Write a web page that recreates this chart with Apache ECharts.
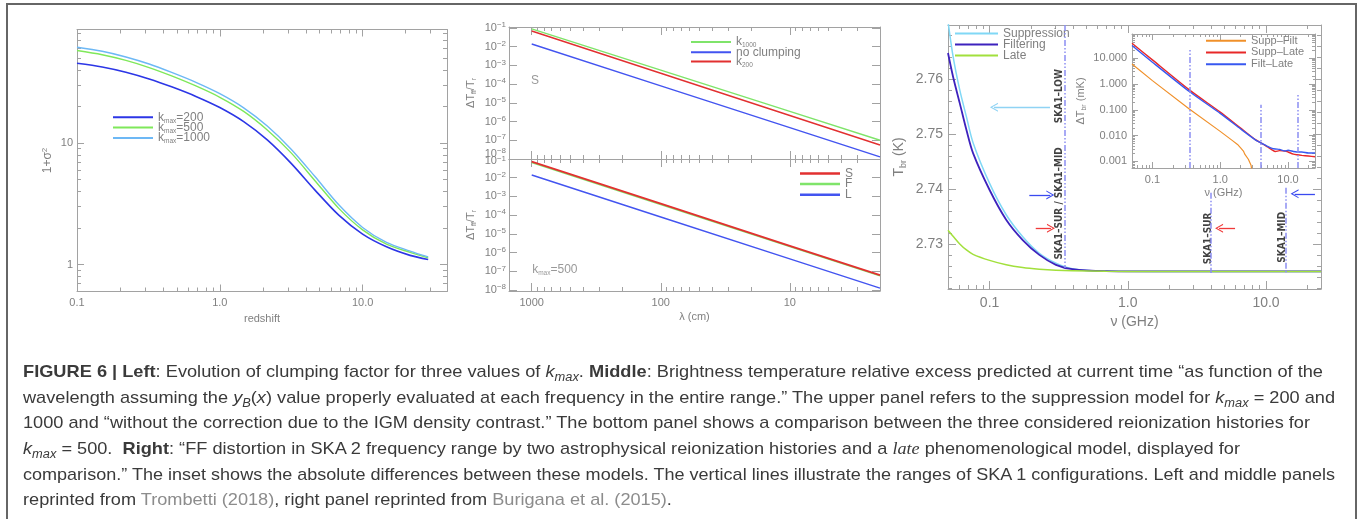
<!DOCTYPE html>
<html>
<head>
<meta charset="utf-8">
<title>Figure 6</title>
<script src="https://cdn.jsdelivr.net/npm/echarts@6/dist/echarts.min.js"></script>
<style>
  html, body { margin: 0; padding: 0; background: #fff; }
  #wrap { position: relative; width: 1362px; height: 519px; overflow: hidden; }
  #chart { position: absolute; left: 0; top: 0; width: 1362px; height: 519px; }
  #frame { position: absolute; left: 6px; top: 3px; width: 1351px; height: 540px; border: 2px solid #666;
           border-bottom: none; box-sizing: border-box; pointer-events: none; }
  #caption { position: absolute; left: 23px; top: 359px; font-family: 'Liberation Sans', Arial, sans-serif;
             font-size: 17px; color: #3a3a3a; }
  #caption div { height: 25.7px; line-height: 25.7px; white-space: nowrap; }
  #caption .ln { display: inline-block; transform-origin: 0 50%; }
  #caption sub { font-size: 12px; vertical-align: -4px; line-height: 0; }
  #caption .ref { color: #8c8c8c; }
  #caption .serif { font-family: 'Liberation Serif', serif; }
</style>
</head>
<body>
<div id="wrap">
  <div id="chart"></div>
  <div id="frame"></div>
  <div id="caption">
    <div><span class="ln"><b>FIGURE 6 | Left</b>: Evolution of clumping factor for three values of <i>k<sub>max</sub></i>. <b>Middle</b>: Brightness temperature relative excess predicted at current time “as function of the</span></div>
    <div><span class="ln">wavelength assuming the <i>y<sub>B</sub></i>(<i>x</i>) value properly evaluated at each frequency in the entire range.” The upper panel refers to the suppression model for <i>k<sub>max</sub></i> = 200 and</span></div>
    <div><span class="ln">1000 and “without the correction due to the IGM density contrast.” The bottom panel shows a comparison between the three considered reionization histories for</span></div>
    <div><span class="ln"><i>k<sub>max</sub></i> = 500.&nbsp; <b>Right</b>: “FF distortion in SKA 2 frequency range by two astrophysical reionization histories and a <i class="serif">late</i> phenomenological model, displayed for</span></div>
    <div><span class="ln">comparison.” The inset shows the absolute differences between these models. The vertical lines illustrate the ranges of SKA 1 configurations. Left and middle panels</span></div>
    <div><span class="ln">reprinted from <span class="ref">Trombetti (2018)</span>, right panel reprinted from <span class="ref">Burigana et al. (2015)</span>.</span></div>
  </div>
</div>
<script>
// ---------- left panel: clumping factor 1+sigma^2 vs redshift ----------
const redshift   = [0.1, 0.15, 0.22, 0.32, 0.46, 0.68, 1.0, 1.47, 2.15, 3.16, 4.64, 6.81, 10, 14.7, 21.5, 28.8]
const clumpK200  = [45.4, 42.3, 38.3, 33.7, 29.0, 24.2, 19.6, 15.0, 10.6, 6.8, 4.1, 2.55, 1.78, 1.40, 1.19, 1.10]
const clumpK500  = [57.7, 53.3, 47.9, 41.8, 35.7, 29.5, 23.8, 18.2, 12.8, 8.3, 4.9, 2.9, 1.93, 1.47, 1.26, 1.135]
const clumpK1000 = [61.5, 56.9, 51.1, 44.7, 38.1, 31.6, 25.5, 19.5, 13.8, 8.9, 5.3, 3.1, 2.02, 1.52, 1.29, 1.155]
const leftXTicks = [0.1, 1, 10]
const leftXLabels = ['0.1', '1.0', '10.0']
const leftYTicks = [1, 10]
const leftYLabels = ['1', '10']

// ---------- middle panels: dT_ff/T_r vs wavelength ----------
const lambdaCm  = [1000, 100, 10, 2]
const upK1000   = [9.0e-2, 5.6e-4, 3.5e-6, 1.0e-7]
const upNoClump = [1.4e-2, 8.1e-5, 4.7e-7, 1.3e-8]
const upK200    = [6.9e-2, 3.8e-4, 2.1e-6, 5.6e-8]
const lowS      = [7.2e-2, 4.1e-4, 2.3e-6, 6.3e-8]
const lowF      = [6.4e-2, 3.7e-4, 2.1e-6, 5.7e-8]
const lowL      = [1.4e-2, 8.0e-5, 4.6e-7, 1.26e-8]
const midXTicks = [1000, 100, 10]
const midXLabels = ['1000', '100', '10']
const midYExp = [-1, -2, -3, -4, -5, -6, -7, -8]

// ---------- right panel: T_br vs frequency ----------
const nuMain = [0.05, 0.0544, 0.0608, 0.068, 0.0759, 0.1, 0.1318, 0.1737, 0.229, 0.302, 0.397, 0.69, 1.5, 4, 10, 25]
const tSupp  = [2.7705, 2.7641, 2.7580, 2.7531, 2.7484, 2.7410, 2.7353, 2.7313, 2.7283, 2.7265, 2.7255, 2.72505, 2.725, 2.725, 2.725, 2.725]
const tFilt  = [2.7647, 2.7604, 2.7556, 2.7507, 2.7465, 2.7398, 2.7344, 2.7307, 2.7280, 2.7262, 2.7254, 2.72505, 2.725, 2.725, 2.725, 2.725]
const tLate  = [2.7325, 2.7314, 2.7300, 2.7289, 2.7281, 2.7270, 2.7262, 2.7257, 2.7254, 2.7252, 2.7251, 2.72502, 2.725, 2.725, 2.725, 2.725]
const mainXTicks = [0.1, 1, 10]
const mainXLabels = ['0.1', '1.0', '10.0']
const mainYTicks = [2.73, 2.74, 2.75, 2.76]
const skaBandsGHz = [0.35, 4, 13.8]

// inset: absolute differences (mK)
const nuInset   = [0.05, 0.1, 0.35, 1.0, 2.0, 3.3, 4.1, 5.0, 5.8, 6.5, 7.5, 9.1, 10, 12, 13.5, 16, 20, 25]
const dSuppLate = [38, 8.6, 0.59, 0.081, 0.0194, 0.0069, 0.0050, 0.0036, 0.0028, 0.0024, 0.0026, 0.0025, 0.0023, 0.0019, 0.0018, 0.0017, 0.0016, 0.0015]
const dFiltLate = [31, 7.0, 0.51, 0.072, 0.018, 0.0068, 0.0050, 0.0038, 0.0032, 0.0030, 0.0029, 0.0025, 0.0027, 0.0024, 0.0023, 0.0023, 0.0021, 0.0021]
const nuSuppFilt = [0.05, 0.1, 0.35, 1.0, 1.5, 1.8, 2.0, 2.2, 2.3, 2.45, 2.6, 2.7, 2.85, 2.95]
const dSuppFilt  = [6.0, 1.35, 0.107, 0.0145, 0.0065, 0.0045, 0.0033, 0.0025, 0.0019, 0.0021, 0.0012, 0.0014, 0.0007, 0.0004]
const insetYTicks = [10, 1, 0.1, 0.01, 0.001]
const insetYLabels = ['10.000', '1.000', '0.100', '0.010', '0.001']

// ---------- helpers ----------
const L = Math.log10
const FONT = "'Liberation Sans', 'DejaVu Sans', Arial, sans-serif"
const AX = '#a2a2a2'
const TX = '#808080'

const logPairs = (xs, ys) => xs.map((x, i) => [L(x), L(ys[i])])
const logXPairs = (xs, ys) => xs.map((x, i) => [L(x), ys[i]])

// 2..9 x 10^k minor ticks inside [lo, hi], in log10 space
function logMinor(lo, hi) {
  const out = []
  for (let e = Math.floor(L(lo)) - 1; e <= Math.ceil(L(hi)); e++) {
    for (let m = 2; m <= 9; m++) {
      const v = m * Math.pow(10, e)
      if (v >= lo * 0.9999 && v <= hi * 1.0001) out.push(L(v))
    }
  }
  return out
}

// label formatter that picks the label of the nearest tick
function nearest(vals, labels) {
  return v => {
    let best = 0
    vals.forEach((t, i) => { if (Math.abs(t - v) < Math.abs(vals[best] - v)) best = i })
    return labels[best]
  }
}

const xAxes = []
const yAxes = []

// box of four axes (labelled side + opposite side, each with a major and a minor tick axis)
function axisSet(list, dim, gridIndex, c) {
  const first = list.length
  const sides = dim === 'x' ? ['bottom', 'top'] : ['left', 'right']
  sides.forEach((pos, s) => {
    [c.major, c.minor || []].forEach((ticks, m) => {
      const main = s === 0 && m === 0
      const showLabel = main && !!c.labels
      list.push({
        type: 'value', gridIndex, position: pos, min: c.min, max: c.max, inverse: !!c.inverse,
        silent: true,
        splitLine: { show: false },
        axisPointer: { show: false },
        axisLine: { show: m === 0, onZero: false, lineStyle: { color: AX, width: 1 } },
        axisTick: {
          show: ticks.length > 0, inside: true, length: m === 0 ? c.len[0] : c.len[1],
          customValues: ticks, lineStyle: { color: AX, width: 1 }
        },
        axisLabel: showLabel ? {
          show: true, customValues: c.labelAt || c.major, formatter: c.labels,
          color: TX, fontFamily: FONT, fontSize: c.fontSize || 11, margin: c.margin, rich: c.rich
        } : { show: false },
        name: main && c.name ? c.name : '',
        nameLocation: 'middle',
        nameGap: c.nameGap || 20,
        nameRotate: dim === 'y' ? 90 : 0,
        nameTextStyle: Object.assign({ color: TX, fontFamily: FONT, fontSize: c.nameSize || 11 }, c.nameStyle || {})
      })
    })
  })
  return first
}

const grids = [
  { left: 77, top: 29.5, width: 370, height: 262 },   // 0 left
  { left: 509, top: 27, width: 371, height: 132 },    // 1 middle upper
  { left: 509, top: 159, width: 371, height: 132 },   // 2 middle lower
  { left: 948, top: 25, width: 373, height: 264 },    // 3 right main
  { left: 1132, top: 34, width: 183, height: 134 }    // 4 inset
].map(g => Object.assign({ show: false, containLabel: false, outerBoundsMode: 'none' }, g))

// ----- left axes -----
const lx = axisSet(xAxes, 'x', 0, {
  min: L(0.1), max: L(39), major: leftXTicks.map(L), minor: logMinor(0.1, 39), len: [7, 4],
  labels: nearest(leftXTicks.map(L), leftXLabels), margin: 6,
  name: 'redshift', nameGap: 19
})
const ly = axisSet(yAxes, 'y', 0, {
  min: L(0.6), max: L(86), major: leftYTicks.map(L), minor: logMinor(0.6, 86), len: [7, 4],
  labels: nearest(leftYTicks.map(L), leftYLabels), margin: 4,
  name: '{a|1+σ}{p|2}', nameGap: 22,
  nameStyle: { rich: {
    a: { fontSize: 12, lineHeight: 14, color: TX, fontFamily: FONT },
    p: { fontSize: 8, lineHeight: 8, verticalAlign: 'top', color: TX, fontFamily: FONT }
  } }
})

// ----- middle axes -----
const expRich = {
  b: { fontSize: 11, lineHeight: 14, color: TX, fontFamily: FONT },
  e: { fontSize: 8, lineHeight: 8, verticalAlign: 'top', color: TX, fontFamily: FONT }
}
const expFmt = v => '{b|10}{e|−' + Math.round(-v) + '}'
const ffName = {
  name: '{a|ΔT}{s|ff}{a|/T}{s|r}', nameGap: 31,
  nameStyle: { rich: {
    a: { fontSize: 11, lineHeight: 14, color: TX, fontFamily: FONT },
    s: { fontSize: 7, lineHeight: 8, verticalAlign: 'bottom', color: TX, fontFamily: FONT }
  } }
}
const midMinor = logMinor(2, 1500)
const mUx = axisSet(xAxes, 'x', 1, {
  min: L(2), max: L(1500), inverse: true, major: midXTicks.map(L), minor: midMinor, len: [8, 4]
})
const mUy = axisSet(yAxes, 'y', 1, Object.assign({
  min: -8.0, max: -0.947, major: midYExp, len: [8, 4],
  labelAt: [-1, -2, -3, -4, -5, -6, -7, -7.72], labels: v => expFmt(Math.min(-1, Math.round(v))), rich: expRich, margin: 3
}, ffName))
const mLx = axisSet(xAxes, 'x', 2, {
  min: L(2), max: L(1500), inverse: true, major: midXTicks.map(L), minor: midMinor, len: [8, 4],
  labels: nearest(midXTicks.map(L), midXLabels), margin: 6,
  name: 'λ (cm)', nameGap: 20
})
const mLy = axisSet(yAxes, 'y', 2, Object.assign({
  min: -8.05, max: -1.0, major: midYExp, len: [8, 4],
  labelAt: [-1.13, -2, -3, -4, -5, -6, -7, -8], labels: v => expFmt(Math.round(v)), rich: expRich, margin: 3
}, ffName))

// ----- right main axes -----
const mainYMinor = []
for (let k = 2722; k <= 2768; k += 2) if (k % 10 !== 0) mainYMinor.push(k / 1000)
const rx = axisSet(xAxes, 'x', 3, {
  min: L(0.05), max: L(25), major: mainXTicks.map(L), minor: logMinor(0.05, 25), len: [8, 4],
  labels: nearest(mainXTicks.map(L), mainXLabels), fontSize: 14, margin: 7,
  name: 'ν (GHz)', nameGap: 25, nameSize: 14
})
const ry = axisSet(yAxes, 'y', 3, {
  min: 2.7218, max: 2.7698, major: mainYTicks, minor: mainYMinor, len: [8, 4],
  labels: v => v.toFixed(2), fontSize: 14, margin: 5,
  name: '{a|T}{s|br}{a| (K)}', nameGap: 40,
  nameStyle: { rich: {
    a: { fontSize: 14, lineHeight: 17, color: TX, fontFamily: FONT },
    s: { fontSize: 9, lineHeight: 9, verticalAlign: 'bottom', color: TX, fontFamily: FONT }
  } }
})

// ----- inset axes -----
const ix = axisSet(xAxes, 'x', 4, {
  min: L(0.05), max: L(25), major: mainXTicks.map(L), minor: logMinor(0.05, 25), len: [6, 3],
  labels: nearest(mainXTicks.map(L), mainXLabels), margin: 6,
  name: 'ν (GHz)', nameGap: 19
})
const iy = axisSet(yAxes, 'y', 4, {
  min: L(5.5e-4), max: L(87), major: insetYTicks.map(L), minor: logMinor(5.5e-4, 87), len: [6, 3],
  labels: nearest(insetYTicks.map(L), insetYLabels), margin: 5,
  name: '{a|ΔT}{s|br}{a| (mK)}', nameGap: 44,
  nameStyle: { rich: {
    a: { fontSize: 11, lineHeight: 14, color: TX, fontFamily: FONT },
    s: { fontSize: 7, lineHeight: 8, verticalAlign: 'bottom', color: TX, fontFamily: FONT }
  } }
})

// ---------- series ----------
function line(name, xi, yi, data, color, width, extra) {
  return Object.assign({
    type: 'line', name, xAxisIndex: xi, yAxisIndex: yi, data,
    symbol: 'none', showSymbol: false, clip: true, silent: true,
    lineStyle: { color, width: width || 1.4 }, itemStyle: { color }
  }, extra || {})
}
function textMarks(xi, yi, items, label, extra) {
  return Object.assign({
    type: 'scatter', xAxisIndex: xi, yAxisIndex: yi, symbolSize: 1, silent: true,
    itemStyle: { color: 'rgba(0,0,0,0)' },
    data: items,
    label: Object.assign({ show: true, position: 'inside', formatter: '{b}', color: TX, fontFamily: FONT, fontSize: 12 }, label)
  }, extra || {})
}

const C = {
  k200: '#2c36e6', k500: '#7fe85a', k1000: '#6db8f5',
  green: '#7fe46a', blue: '#4354f0', red: '#e23030',
  supp: '#80d8f6', filt: '#3d22bd', late: '#a2e03c',
  sf: '#f0902a', sl: '#e82828', fl: '#3858f0',
  band: '#8c8ef2', arrowCyan: '#8fd3f4', arrowBlue: '#3a4af0', arrowRed: '#f03a3a'
}

const smooth = { smooth: 0.3 }

// vertical SKA band lines (dash-dot) and arrows for the right panel
const bandStyle = { color: C.band, width: 1.5, type: [6, 2, 1.5, 2, 1.5, 2] }
const CHEVRON = 'path://M0,10 L5,0 L10,10 L8.7,10 L5,2.6 L1.3,10 Z'
function arrow(color, tail, head, t) {
  return [
    { coord: [L(tail), t], symbol: 'none', lineStyle: { color, width: 1.3, type: 'solid' } },
    { coord: [L(head), t], symbol: CHEVRON, symbolSize: [9, 8] }
  ]
}
const mainMarkLine = {
  silent: true, animation: false, symbol: 'none', label: { show: false },
  lineStyle: bandStyle,
  data: [
    [{ coord: [L(skaBandsGHz[0]), 2.7698] }, { coord: [L(skaBandsGHz[0]), 2.7256] }],
    [{ coord: [L(skaBandsGHz[1]), 2.7393] }, { coord: [L(skaBandsGHz[1]), 2.7247] }],
    [{ coord: [L(skaBandsGHz[2]), 2.7402] }, { coord: [L(skaBandsGHz[2]), 2.7247] }],
    arrow(C.arrowCyan, 0.2735, 0.1075, 2.75485),
    arrow(C.arrowBlue, 0.1938, 0.275, 2.7389),
    arrow(C.arrowRed, 0.2157, 0.278, 2.73285),
    arrow(C.arrowRed, 5.97, 4.575, 2.73285),
    arrow(C.arrowBlue, 22.6, 16.1, 2.7391)
  ]
}
const insetMarkLine = {
  silent: true, animation: false, symbol: 'none', label: { show: false },
  lineStyle: bandStyle,
  data: [
    [{ coord: [L(skaBandsGHz[0]), L(5.5e-4)] }, { coord: [L(skaBandsGHz[0]), L(21)] }],
    [{ coord: [L(skaBandsGHz[1]), L(5.5e-4)] }, { coord: [L(skaBandsGHz[1]), L(0.156)] }],
    [{ coord: [L(skaBandsGHz[2]), L(5.5e-4)] }, { coord: [L(skaBandsGHz[2]), L(0.44)] }]
  ]
}

const kRich = {
  k: { fontSize: 12, lineHeight: 14, color: TX, fontFamily: FONT },
  s: { fontSize: 6.5, lineHeight: 8, verticalAlign: 'bottom', color: TX, fontFamily: FONT }
}

const series = [
  // left
  line('kmax=200', lx, ly, logPairs(redshift, clumpK200), C.k200, 1.6, smooth),
  line('kmax=500', lx, ly, logPairs(redshift, clumpK500), C.k500, 1.4, smooth),
  line('kmax=1000', lx, ly, logPairs(redshift, clumpK1000), C.k1000, 1.4, smooth),
  // middle upper
  line('k1000', mUx, mUy, logPairs(lambdaCm, upK1000), C.green, 1.4),
  line('no clumping', mUx, mUy, logPairs(lambdaCm, upNoClump), C.blue, 1.4),
  line('k200', mUx, mUy, logPairs(lambdaCm, upK200), C.red, 1.4),
  textMarks(mUx, mUy, [{ name: 'S', value: [L(944), L(1.53e-4)] }], {}),
  // middle lower
  line('F', mLx, mLy, logPairs(lambdaCm, lowF), C.green, 1.4),
  line('S', mLx, mLy, logPairs(lambdaCm, lowS), C.red, 1.8),
  line('L', mLx, mLy, logPairs(lambdaCm, lowL), C.blue, 1.4),
  textMarks(mLx, mLy, [{ name: 'kmax=500', value: [L(662), L(1.28e-7)] }],
    { formatter: '{k|k}{s|max}{k|=500}', rich: kRich }),
  // right main
  line('Suppression', rx, ry, logXPairs(nuMain, tSupp), C.supp, 1.5, smooth),
  line('Filtering', rx, ry, logXPairs(nuMain, tFilt), C.filt, 1.8, smooth),
  line('Late', rx, ry, logXPairs(nuMain, tLate), C.late, 1.5, smooth),
  textMarks(rx, ry, [
    { name: 'SKA1–LOW', value: [L(0.318), 2.75685] },
    { name: 'SKA1–SUR / SKA1–MID', value: [L(0.318), 2.73736] },
    { name: 'SKA1–SUR', value: [L(3.8), 2.7310] },
    { name: 'SKA1–MID', value: [L(13.2), 2.7312] }
  ], { rotate: 90, color: '#111', fontFamily: "'DejaVu Sans Condensed', 'DejaVu Sans', sans-serif", fontWeight: 'bold', fontSize: 10 },
  { markLine: mainMarkLine }),
  // inset
  line('Supp–Filt', ix, iy, logPairs(nuSuppFilt, dSuppFilt), C.sf, 1.2, { markLine: insetMarkLine }),
  line('Supp–Late', ix, iy, logPairs(nuInset, dSuppLate), C.sl, 1.4, { smooth: 0.2 }),
  line('Filt–Late', ix, iy, logPairs(nuInset, dFiltLate), C.fl, 1.4, { smooth: 0.2 })
]

const legendBase = {
  orient: 'vertical', icon: 'rect', itemHeight: 2, padding: 0, selectedMode: false,
  textStyle: { color: TX, fontFamily: FONT, fontSize: 12 }
}
const legend = [
  Object.assign({}, legendBase, {
    left: 113, top: 111.3, itemWidth: 40, itemGap: -2.7,
    data: ['kmax=200', 'kmax=500', 'kmax=1000'],
    formatter: n => '{k|k}{s|max}{k|' + n.slice(4) + '}',
    textStyle: { color: TX, fontFamily: FONT, fontSize: 12, rich: kRich }
  }),
  Object.assign({}, legendBase, {
    left: 691, top: 36, itemWidth: 40, itemGap: -2.7,
    data: ['k1000', 'no clumping', 'k200'],
    formatter: n => n.charAt(0) === 'k' ? '{k|k}{s|' + n.slice(1) + '}' : '{k|' + n + '}',
    textStyle: { color: TX, fontFamily: FONT, fontSize: 12, rich: kRich }
  }),
  Object.assign({}, legendBase, {
    left: 800, top: 167.4, itemWidth: 40, itemGap: -1.3, itemHeight: 2.5,
    data: ['S', 'F', 'L'],
    textStyle: { color: TX, fontFamily: FONT, fontSize: 12, lineHeight: 10.7 }
  }),
  Object.assign({}, legendBase, {
    left: 955, top: 27.5, itemWidth: 43, itemGap: -1,
    data: ['Suppression', 'Filtering', 'Late'],
    textStyle: { color: TX, fontFamily: FONT, fontSize: 12, lineHeight: 11 }
  }),
  Object.assign({}, legendBase, {
    left: 1206, top: 34.9, itemWidth: 40, itemGap: 0,
    data: ['Supp–Filt', 'Supp–Late', 'Filt–Late'],
    textStyle: { color: TX, fontFamily: FONT, fontSize: 11, lineHeight: 11.7 }
  })
]

const chart = echarts.init(document.getElementById('chart'), null, { renderer: 'canvas' })
chart.setOption({
  animation: false,
  backgroundColor: '#fff',
  textStyle: { fontFamily: FONT },
  grid: grids,
  xAxis: xAxes,
  yAxis: yAxes,
  legend,
  series
})

// stretch each caption line to the width it has in the figure
const lineEnds = [1323, 1335, 1310, 1240, 1335, null]
const spans = document.querySelectorAll('#caption .ln')
const scales = []
spans.forEach((s, i) => {
  if (lineEnds[i]) {
    const w = s.getBoundingClientRect().width
    scales[i] = Math.max(0.9, Math.min(1.1, (lineEnds[i] - 23) / w))
  }
})
const known = scales.filter(Boolean)
const avg = known.reduce((a, b) => a + b, 0) / known.length
spans.forEach((s, i) => { s.style.transform = 'scaleX(' + (scales[i] || avg) + ')' })
</script>
</body>
</html>
